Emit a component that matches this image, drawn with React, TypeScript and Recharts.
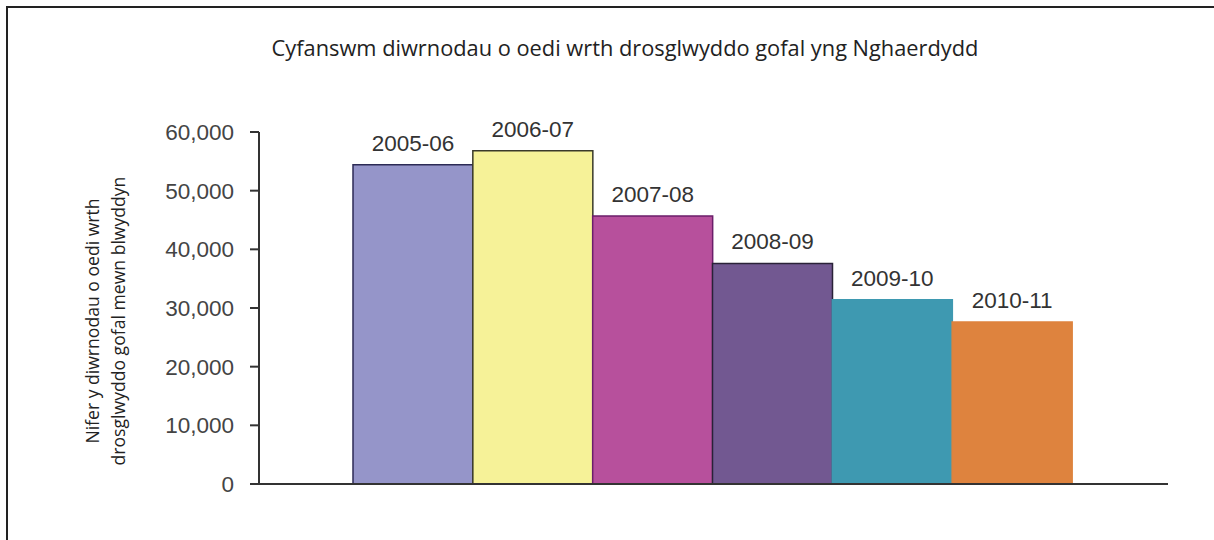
import { BarChart, Bar, XAxis, YAxis, Cell, LabelList } from 'recharts';

// Blynyddoedd ariannol a chyfanswm y diwrnodau oedi
const years = ['2005-06', '2006-07', '2007-08', '2008-09', '2009-10', '2010-11'];
const delayDays = [54400, 56800, 45700, 37600, 31400, 27600];
const yTicks = [0, 10000, 20000, 30000, 40000, 50000, 60000];

const barFills = ['#9595c9', '#f6f298', '#b7509c', '#725891', '#3e99b1', '#de833e'];
const barStrokes = ['#2c2a55', '#3a3a2a', '#6b1e6a', '#2a2238', '#3e99b1', '#de833e'];

const titleText = 'Cyfanswm diwrnodau o oedi wrth drosglwyddo gofal yng Nghaerdydd';
const yLabelLines = ['Nifer y diwrnodau o oedi wrth', 'drosglwyddo gofal mewn blwyddyn'];

const data = years.map((name, i) => ({ name, days: delayDays[i] }));

const numberFont = '"Liberation Sans", Arial, sans-serif';
const labelFont = '"Open Sans", "Noto Sans", sans-serif';

const YAxisTitle = (props: any) => {
  const vb = props.viewBox || {};
  const cy = vb.y + vb.height / 2 + 13;
  const xs = [vb.x + 13, vb.x + 39];
  return (
    <g>
      {yLabelLines.map((line, i) => (
        <text
          key={line}
          x={xs[i]}
          y={cy}
          transform={`rotate(-90 ${xs[i]} ${cy})`}
          textAnchor="middle"
          dominantBaseline="central"
          fontFamily={labelFont}
          fontSize={17.6}
          fill="#222"
        >
          {line}
        </text>
      ))}
    </g>
  );
};

const App = () => {
  return (
    <div style={{ position: 'absolute', left: 0, top: 0, width: 1214, height: 540, background: '#fff' }}>
      {/* ffrâm o gwmpas y siart */}
      <div
        style={{
          position: 'absolute',
          left: 6,
          top: 6,
          right: 0,
          bottom: 0,
          borderTop: '2px solid #222',
          borderLeft: '2px solid #222',
        }}
      />
      <div
        style={{
          position: 'absolute',
          left: 0,
          top: 33,
          width: 1250,
          textAlign: 'center',
          fontFamily: labelFont,
          fontSize: 21.8,
          color: '#222',
          whiteSpace: 'nowrap',
        }}
      >
        {titleText}
      </div>
      <BarChart
        width={1214}
        height={540}
        data={data}
        margin={{ top: 132, right: 46, bottom: 55, left: 79 }}
        barCategoryGap={0}
        style={{ position: 'absolute', left: 0, top: 0 }}
      >
        <XAxis
          dataKey="name"
          tick={false}
          tickLine={false}
          height={1}
          axisLine={{ stroke: '#333', strokeWidth: 2 }}
          padding={{ left: 94, right: 96 }}
        />
        <YAxis
          width={180}
          domain={[0, 60000]}
          ticks={yTicks}
          interval={0}
          tickFormatter={(v: number) => v.toLocaleString('en-US')}
          tick={{ fill: '#444', fontSize: 22.5, fontFamily: numberFont }}
          tickSize={9}
          tickMargin={16}
          tickLine={{ stroke: '#333', strokeWidth: 2 }}
          axisLine={{ stroke: '#333', strokeWidth: 2 }}
          label={<YAxisTitle />}
        />
        <Bar dataKey="days" isAnimationActive={false}>
          {data.map((d, i) => (
            <Cell key={d.name} fill={barFills[i]} stroke={barStrokes[i]} strokeWidth={1.5} />
          ))}
          <LabelList
            dataKey="name"
            position="top"
            offset={14}
            fill="#333"
            fontSize={22.5}
            fontFamily={numberFont}
          />
        </Bar>
      </BarChart>
    </div>
  );
};

export default App;
